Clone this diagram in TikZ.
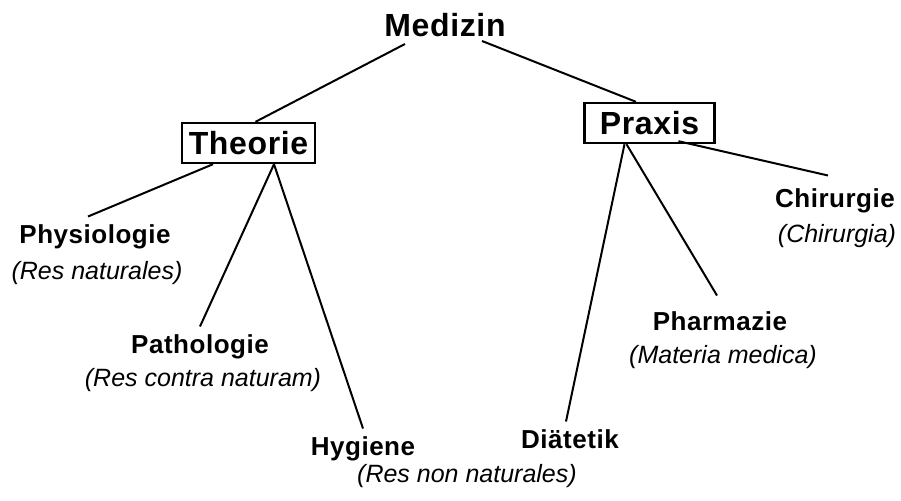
\documentclass[tikz,border=0pt]{standalone}
\usepackage{fontspec}
\setmainfont{Liberation Sans}
\newfontfamily\spaced[LetterSpace=2]{Liberation Sans}
\usepackage{tikz}
\usetikzlibrary{positioning}

\begin{document}
\begin{tikzpicture}[
  x=0.5pt, y=-0.5pt, line width=1pt,
  root/.style={anchor=base, font=\spaced\fontsize{16}{19}\selectfont\bfseries},
  field/.style={draw, line width=1.2pt, minimum width=65pt, minimum height=20pt, font=\spaced\fontsize{16}{19}\selectfont\bfseries},
  branch/.style={anchor=base, font=\spaced\fontsize{13}{16}\selectfont\bfseries},
  latin/.style={anchor=base, font=\fontsize{12.5}{15}\selectfont\itshape}
]
  \useasboundingbox (0,0) rectangle (901,500);

  \node[root] (med) at (445,36) {Medizin};
  \node[field] (theo) at (248.5,143) {Theorie};
  \node[field] (prax) at (649.5,123) {Praxis};

  \node[branch] (phys) at (95,243)  {Physiologie};
  \node[latin]  (physl) at (97,279) {(Res naturales)};
  \node[branch] (path) at (200,353) {Pathologie};
  \node[latin]  (pathl) at (203,386) {(Res contra naturam)};
  \node[branch] (hyg) at (363,455)  {Hygiene};
  \node[latin]  (hygl) at (467,482) {(Res non naturales)};

  \node[branch] (diat) at (570,448)  {Diätetik};
  \node[branch] (pharm) at (720,330) {Pharmazie};
  \node[latin]  (pharml) at (723,363) {(Materia medica)};
  \node[branch] (chir) at (835,207)  {Chirurgie};
  \node[latin]  (chirl) at (837,242) {(Chirurgia)};

  \draw ([xshift=-20pt]med.south) -- ([xshift=3.5pt]theo.north);
  \draw ([xshift=18.5pt,yshift=1.5pt]med.south) -- ([xshift=-6.75pt]prax.north);

  \draw ([xshift=-17.75pt]theo.south) -- ([xshift=-3.5pt]phys.north);
  \draw ([xshift=12.75pt]theo.south) -- (path.north);
  \draw ([xshift=12.75pt]theo.south) -- (hyg.north);

  \draw ([xshift=-12.5pt]prax.south) -- ([xshift=-2pt]diat.north);
  \draw ([xshift=-11.5pt]prax.south) -- ([xshift=-1.5pt,yshift=4pt]pharm.north);
  \draw ([xshift=14.5pt,yshift=1.5pt]prax.south) -- ([xshift=-3.5pt,yshift=2.5pt]chir.north);
\end{tikzpicture}
\end{document}
